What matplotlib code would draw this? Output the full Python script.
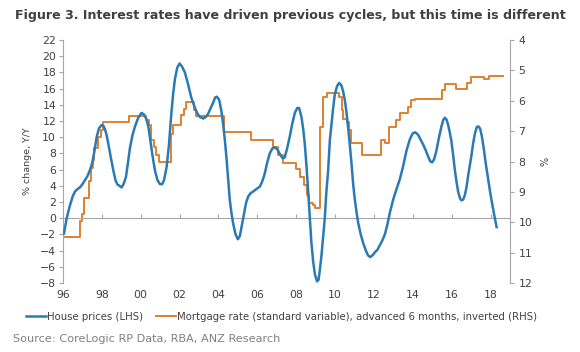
import matplotlib
matplotlib.use("Agg")
import matplotlib.pyplot as plt
from matplotlib.ticker import MultipleLocator, FixedLocator

# house prices, % change y/y (LHS)
house_years = [
    1996.05, 1996.19, 1996.36, 1996.50, 1996.62, 1996.75, 1996.87, 1997.00, 1997.13, 1997.26,
    1997.39, 1997.50, 1997.62, 1997.73, 1997.85, 1997.99, 1998.08, 1998.16, 1998.25, 1998.33,
    1998.46, 1998.59, 1998.70, 1998.79, 1998.90, 1999.02, 1999.13, 1999.24, 1999.34, 1999.44,
    1999.57, 1999.70, 1999.87, 2000.04, 2000.17, 2000.30, 2000.40, 2000.47, 2000.60, 2000.73,
    2000.86, 2000.99, 2001.10, 2001.20, 2001.33, 2001.45, 2001.57, 2001.67, 2001.76, 2001.88,
    2002.00, 2002.13, 2002.27, 2002.44, 2002.60, 2002.79, 2002.92, 2003.04, 2003.22, 2003.35,
    2003.47, 2003.60, 2003.73, 2003.83, 2003.92, 2004.04, 2004.15, 2004.24, 2004.33, 2004.41,
    2004.50, 2004.58, 2004.67, 2004.76, 2004.88, 2005.00, 2005.10, 2005.20, 2005.30, 2005.42,
    2005.53, 2005.66, 2005.79, 2005.95, 2006.13, 2006.26, 2006.38, 2006.51, 2006.64, 2006.77,
    2006.90, 2007.03, 2007.16, 2007.30, 2007.41, 2007.54, 2007.67, 2007.80, 2007.93, 2008.05,
    2008.15, 2008.27, 2008.36, 2008.44, 2008.53, 2008.61, 2008.70, 2008.78, 2008.87, 2008.96,
    2009.07, 2009.15, 2009.21, 2009.30, 2009.38, 2009.47, 2009.55, 2009.64, 2009.73, 2009.81,
    2009.90, 2009.98, 2010.10, 2010.21, 2010.32, 2010.41, 2010.50, 2010.58, 2010.67, 2010.76,
    2010.85, 2010.93, 2011.01, 2011.10, 2011.19, 2011.32, 2011.45, 2011.60, 2011.70, 2011.80,
    2011.92, 2012.05, 2012.18, 2012.31, 2012.44, 2012.56, 2012.69, 2012.82, 2012.99, 2013.16,
    2013.33, 2013.50, 2013.67, 2013.84, 2014.00, 2014.13, 2014.27, 2014.40, 2014.53, 2014.66,
    2014.79, 2014.90, 2015.00, 2015.10, 2015.21, 2015.34, 2015.47, 2015.56, 2015.64, 2015.73,
    2015.81, 2015.90, 2015.98, 2016.07, 2016.16, 2016.24, 2016.33, 2016.42, 2016.50, 2016.59,
    2016.67, 2016.76, 2016.85, 2016.93, 2017.02, 2017.10, 2017.20, 2017.30, 2017.40, 2017.47,
    2017.56, 2017.65, 2017.75, 2017.87, 2017.96, 2018.05, 2018.18, 2018.31,
]
house_values = [
    -1.9, 0.0, 1.6, 2.7, 3.3, 3.6, 3.8, 4.2, 4.7, 5.2,
    5.95, 6.8, 8.3, 10.0, 11.1, 11.5, 11.4, 11.0, 10.2, 9.2,
    7.5, 5.9, 4.7, 4.2, 4.0, 3.8, 4.3, 5.1, 6.8, 8.6,
    10.2, 11.3, 12.4, 13.0, 12.8, 12.2, 11.2, 10.0, 7.8, 5.9,
    4.7, 4.2, 4.2, 4.7, 6.3, 9.0, 12.8, 15.4, 17.2, 18.6,
    19.1, 18.7, 18.0, 16.5, 14.9, 13.6, 12.9, 12.5, 12.3, 12.5,
    12.9, 13.6, 14.3, 14.9, 15.0, 14.6, 13.2, 11.6, 9.6, 7.5,
    4.8, 2.3, 0.6, -0.7, -2.0, -2.6, -2.2, -0.9, 0.4, 1.9,
    2.7, 3.1, 3.3, 3.6, 3.9, 4.6, 5.5, 6.9, 8.0, 8.6,
    8.75, 8.5, 7.9, 7.4, 7.5, 8.7, 10.1, 11.7, 13.0, 13.6,
    13.6, 12.5, 11.0, 9.2, 6.4, 3.5, 0.0, -3.0, -5.3, -6.9,
    -7.8, -7.6, -6.5, -4.6, -2.4, 0.0, 3.2, 5.8, 9.6, 11.5,
    13.6, 15.2, 16.3, 16.7, 16.4, 15.7, 14.6, 13.2, 11.2, 9.0,
    6.6, 4.2, 2.4, 0.8, -0.6, -2.0, -3.1, -4.1, -4.6, -4.8,
    -4.6, -4.2, -3.9, -3.3, -2.7, -2.0, -0.8, 0.7, 2.3, 3.6,
    4.8, 6.4, 8.3, 9.7, 10.5, 10.6, 10.3, 9.7, 9.1, 8.4,
    7.6, 7.0, 6.9, 7.3, 8.3, 9.9, 11.3, 12.1, 12.4, 12.2,
    11.6, 10.6, 9.6, 7.9, 6.0, 4.6, 3.3, 2.5, 2.2, 2.3,
    2.8, 3.8, 5.3, 6.5, 7.8, 9.2, 10.5, 11.3, 11.3, 11.0,
    10.0, 8.6, 6.8, 4.9, 3.5, 2.2, 0.5, -1.1,
]

# mortgage rate, standard variable, advanced 6 months (RHS, inverted) - step starts
rate_years = [
    1996.00, 1996.90, 1996.98, 1997.08, 1997.32, 1997.43, 1997.52, 1997.60, 1997.80, 1997.95,
    1998.07, 1999.40, 2000.28, 2000.40, 2000.52, 2000.66, 2000.80, 2000.95, 2001.55, 2001.65,
    2002.05, 2002.22, 2002.35, 2002.72, 2002.82, 2004.30, 2005.65, 2006.80, 2007.05, 2007.30,
    2008.01, 2008.22, 2008.40, 2008.58, 2008.68, 2008.85, 2008.95, 2009.20, 2009.40, 2009.60,
    2010.20, 2010.35, 2010.42, 2010.60, 2010.72, 2010.82, 2011.36, 2012.38, 2012.56, 2012.75,
    2013.15, 2013.33, 2013.76, 2013.93, 2014.10, 2015.50, 2015.66, 2016.24, 2016.80, 2016.98,
    2017.65, 2017.90, 2018.64,
]
rate_values = [
    10.50, 9.97, 9.72, 9.21, 8.65, 8.20, 7.95, 7.55, 7.18, 6.96,
    6.69, 6.50, 6.65, 6.80, 7.29, 7.51, 7.79, 8.03, 7.10, 6.80,
    6.47, 6.28, 6.05, 6.30, 6.50, 7.04, 7.29, 7.51, 7.79, 8.04,
    8.26, 8.50, 8.77, 9.10, 9.38, 9.43, 9.54, 6.85, 5.87, 5.76,
    5.87, 6.30, 6.60, 6.70, 6.96, 7.38, 7.79, 7.29, 7.40, 6.85,
    6.63, 6.41, 6.19, 5.98, 5.93, 5.65, 5.45, 5.62, 5.40, 5.23,
    5.28, 5.19, 5.19,
]

year_ticks = list(range(1996, 2019, 2))
year_labels = [f"{y % 100:02d}" for y in year_ticks]

BLUE = "#2a7ab5"
ORANGE = "#e0802e"
GREY = "#404040"
AXIS = "#a6a6a6"

plt.rcParams["font.family"] = "DejaVu Sans"

fig = plt.figure(figsize=(5.8, 3.52), dpi=100)
ax = fig.add_axes([63 / 580, 1 - 283 / 352, (510 - 63) / 580, (283 - 40) / 352])
ax2 = ax.twinx()

ax.plot(house_years, house_values, color=BLUE, linewidth=1.8, label="House prices (LHS)", zorder=3)
ax2.plot(rate_years, rate_values, color=ORANGE, linewidth=1.4, drawstyle="steps-post",
         label="Mortgage rate (standard variable), advanced 6 months, inverted (RHS)")

ax.set_xlim(1996, 2019)
ax.set_ylim(-8, 22)
ax.yaxis.set_major_locator(MultipleLocator(2))
ax2.set_ylim(12, 4)
ax2.yaxis.set_major_locator(MultipleLocator(1))

ax.xaxis.set_major_locator(FixedLocator(year_ticks))
ax.set_xticklabels(year_labels)

ax.spines["top"].set_visible(False)
ax2.spines["top"].set_visible(False)
ax2.spines["bottom"].set_visible(False)
ax2.spines["left"].set_visible(False)
ax.spines["right"].set_visible(False)
ax.spines["bottom"].set_position(("data", 0))
for sp in [ax.spines["left"], ax.spines["bottom"], ax2.spines["right"]]:
    sp.set_color(AXIS)
    sp.set_linewidth(0.8)

ax.tick_params(axis="x", direction="in", length=3, color=AXIS, pad=52, labelsize=7.8, labelcolor=GREY)
ax.tick_params(axis="y", direction="out", length=3, color=AXIS, pad=2, labelsize=7.8, labelcolor=GREY)
ax2.tick_params(axis="y", direction="out", length=3, color=AXIS, pad=3, labelsize=7.8, labelcolor=GREY)

ax.set_ylabel("% change, Y/Y", fontsize=6.8, color=GREY, labelpad=6)
ax2.set_ylabel("%", fontsize=7, color=GREY, labelpad=6)

ax.set_zorder(ax2.get_zorder() + 1)
ax.patch.set_visible(False)

fig.text(0.5, 1 - 15 / 352, "Figure 3. Interest rates have driven previous cycles, but this time is different",
         ha="center", va="center", fontsize=9.1, fontweight="bold", color=GREY)

h1, l1 = ax.get_legend_handles_labels()
h2, l2 = ax2.get_legend_handles_labels()
fig.legend(h1 + h2, l1 + l2, loc="center left", bbox_to_anchor=(26 / 580, 1 - 317 / 352),
           ncol=2, frameon=False, fontsize=7.3, handlelength=2.0, handletextpad=0.1,
           columnspacing=1.2, labelcolor=GREY, borderaxespad=0, borderpad=0)

fig.text(13 / 580, 1 - 339 / 352, "Source: CoreLogic RP Data, RBA, ANZ Research",
         ha="left", va="center", fontsize=8.1, color="#808080")

fig.savefig("out.png", dpi=100)
